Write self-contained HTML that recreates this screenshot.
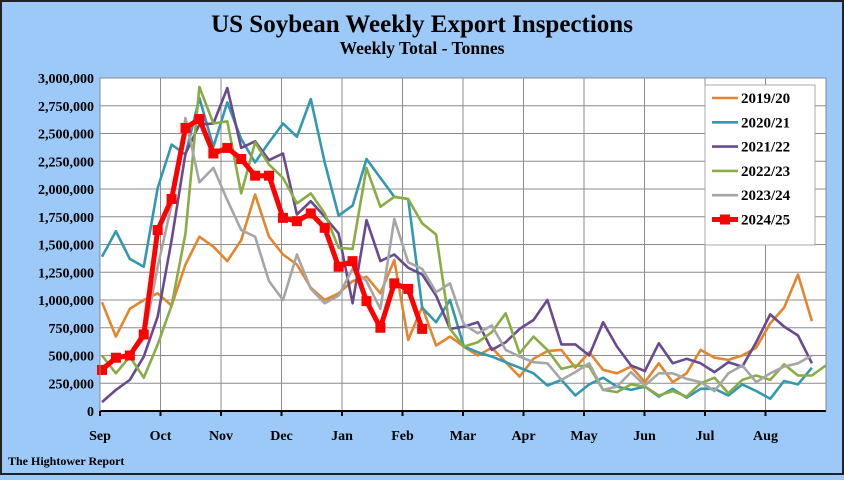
<!DOCTYPE html>
<html><head><meta charset="utf-8">
<style>
html,body{margin:0;padding:0;}
body{width:844px;height:475px;overflow:hidden;background:#9cc9f7;font-family:"Liberation Serif",serif;}
svg text{font-family:"Liberation Serif",serif;font-weight:bold;fill:#000;}
</style></head>
<body>
<svg id="chart" width="844" height="475" viewBox="0 0 844 475" xmlns="http://www.w3.org/2000/svg">
<rect x="1" y="1" width="842" height="473" fill="#9cc9f7" stroke="#222" stroke-width="2"/>
<text x="422" y="32" text-anchor="middle" font-size="25">US Soybean Weekly Export Inspections</text>
<text x="422" y="54" text-anchor="middle" font-size="17.5">Weekly Total - Tonnes</text>
<rect x="100" y="78" width="726" height="333" fill="#fff"/>
<g id="grid"></g>
<g id="series"></g>
<g id="axes"></g>
<g id="legend"></g>
<text x="8" y="465" font-size="12">The Hightower Report</text>
</svg>
<script>
const months = ["Sep","Oct","Nov","Dec","Jan","Feb","Mar","Apr","May","Jun","Jul","Aug"];
const yTicks = [0,250000,500000,750000,1000000,1250000,1500000,1750000,2000000,2250000,2500000,2750000,3000000];
const seriesNames = ["2019/20","2020/21","2021/22","2022/23","2023/24","2024/25"];
const s2019 = [980000,670000,920000,1000000,1060000,950000,1320000,1570000,1480000,1350000,1540000,1950000,1570000,1410000,1320000,1110000,1000000,1060000,1170000,1210000,1060000,1360000,640000,940000,590000,670000,580000,500000,570000,440000,310000,470000,540000,550000,390000,530000,370000,340000,400000,260000,430000,260000,340000,550000,480000,460000,500000,570000,790000,930000,1230000,810000];
const s2020 = [1390000,1620000,1370000,1300000,2010000,2400000,2310000,2820000,2380000,2780000,2450000,2240000,2420000,2590000,2470000,2810000,2240000,1760000,1850000,2270000,2100000,1930000,1910000,930000,800000,1000000,580000,530000,490000,440000,390000,340000,230000,280000,140000,240000,300000,220000,190000,220000,130000,200000,120000,200000,200000,140000,240000,180000,110000,270000,240000,390000];
const s2021 = [80000,190000,280000,490000,850000,1540000,2320000,2580000,2590000,2910000,2370000,2430000,2260000,2320000,1770000,1890000,1750000,1600000,970000,1720000,1350000,1410000,1290000,1230000,1040000,740000,760000,800000,550000,620000,740000,820000,1000000,600000,600000,500000,800000,580000,410000,360000,610000,430000,470000,430000,350000,440000,400000,620000,870000,760000,680000,430000];
const s2022 = [500000,340000,490000,300000,600000,950000,1600000,2920000,2590000,2610000,1960000,2420000,2220000,2100000,1870000,1960000,1780000,1470000,1460000,2190000,1840000,1930000,1910000,1690000,1590000,740000,580000,620000,710000,880000,520000,670000,550000,380000,410000,400000,190000,170000,240000,220000,140000,180000,130000,250000,300000,160000,280000,320000,280000,420000,320000,320000,410000];
const s2023 = [400000,460000,500000,650000,1300000,1860000,2640000,2060000,2190000,1900000,1630000,1570000,1170000,1000000,1410000,1100000,970000,1040000,1280000,1170000,920000,1730000,1340000,1280000,1070000,1150000,780000,700000,770000,550000,490000,440000,430000,280000,350000,430000,190000,220000,350000,230000,340000,340000,290000,260000,180000,340000,410000,260000,340000,400000,430000,500000];
const s2024 = [370000,480000,500000,690000,1630000,1910000,2550000,2630000,2320000,2370000,2270000,2120000,2120000,1740000,1710000,1780000,1650000,1300000,1350000,990000,750000,1150000,1100000,740000];
const colors = ["#e2862f","#3399b0","#6a4a8e","#8aac45","#a6a6a6","#ff0000"];
const allSeries = [s2019,s2020,s2021,s2022,s2023,s2024];

const NS="http://www.w3.org/2000/svg";
const X0=100,X1=826,Y0=411,Y1=78,YMAX=3000000;
function xw(i){return 102+i*13.92;}
function xm(m){return X0+m*(X1-X0)/12;}
function yv(v){return Y0-v/YMAX*(Y0-Y1);}
function mk(tag,attrs,parent){const e=document.createElementNS(NS,tag);for(const k in attrs)e.setAttribute(k,attrs[k]);parent.appendChild(e);return e;}
const grid=document.getElementById('grid'),axes=document.getElementById('axes'),ser=document.getElementById('series'),leg=document.getElementById('legend');

yTicks.forEach((t,k)=>{
  const l=mk('line',{x1:X0,x2:X1,y1:yv(t),y2:yv(t),stroke:'#8c8c8c','stroke-width':1},grid);
  
  
  const tx=mk('text',{x:94,y:yv(t)+5,'text-anchor':'end','font-size':14},axes);
  tx.textContent=t.toLocaleString('en-US');
  
  
});
months.forEach((m,k)=>{
  const x=xm(k);
  if(k>0){const l=mk('line',{x1:x,x2:x,y1:Y1,y2:Y0,stroke:'#8c8c8c','stroke-width':1},grid);
  
  }
  const tk=mk('line',{x1:x,x2:x,y1:Y0,y2:Y0+5,stroke:'#000','stroke-width':2},axes);
  
  
  const tx=mk('text',{x:x,y:440,'text-anchor':'middle','font-size':14},axes);
  tx.textContent=m;
  
  
});
const xa=mk('line',{x1:X0,x2:X1,y1:Y0,y2:Y0,stroke:'#000','stroke-width':2},axes);


const ya=mk('line',{x1:X0,x2:X0,y1:Y1,y2:Y0,stroke:'#888','stroke-width':1},axes);


const rb=mk('line',{x1:X1,x2:X1,y1:Y1,y2:Y0,stroke:'#888','stroke-width':1},axes);



allSeries.forEach((s,k)=>{
  const isLast=k===allSeries.length-1;
  const pts=s.map((v,i)=>xw(i).toFixed(1)+','+yv(v).toFixed(1)).join(' ');
  const pl=mk('polyline',{points:pts,fill:'none',stroke:colors[k],'stroke-width':isLast?5:2.6,'stroke-linejoin':'round'},ser);
  
  
  if(isLast){s.forEach((v,i)=>{
    const r=mk('rect',{x:xw(i)-5,y:yv(v)-5,width:10,height:10,fill:colors[k]},ser);
    
    
  });}
});

const lb=mk('rect',{x:705,y:85,width:110,height:160,fill:'#fff',stroke:'#aaa','stroke-width':1},leg);


seriesNames.forEach((n,k)=>{
  const y=98+k*24.3;
  const isLast=k===seriesNames.length-1;
  const l=mk('line',{x1:712,x2:738,y1:y,y2:y,stroke:colors[k],'stroke-width':isLast?5:2.6},leg);
  
  
  if(isLast){const r=mk('rect',{x:720,y:y-5,width:10,height:10,fill:colors[k]},leg);
    
    }
  const t=mk('text',{x:741,y:y+5,'font-size':15},leg);
  t.textContent=n;
  
  
});
</script>
</body></html>
